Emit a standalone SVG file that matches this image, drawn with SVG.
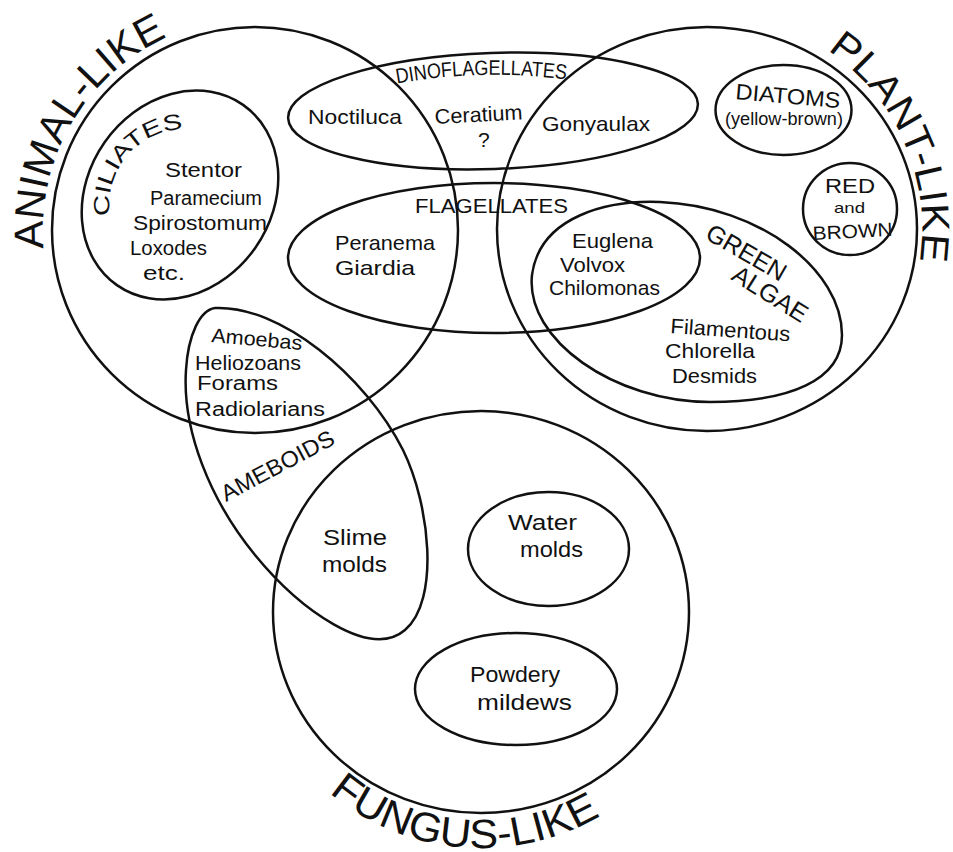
<svg xmlns="http://www.w3.org/2000/svg" width="953" height="852" viewBox="0 0 953 852">
<defs>
<style>
.s{fill:none;stroke:#111;stroke-width:2.5}
.t{font-family:"Liberation Sans",Arial,sans-serif;fill:#111;font-size:20px}
.b{font-family:"Liberation Sans",Arial,sans-serif;fill:#111;font-size:41px}
</style>
<path id="pAnimal" d="M 46.2 266.8 A 212 212 0 0 1 200.1 25.2"/>
<path id="pPlant" d="M 807.9 38.6 A 215 215 0 0 1 914.7 284.6"/>
<path id="pFungus" d="M 314.1 778.9 A 236 236 0 0 0 632.7 792.8"/>
<path id="pCiliates" d="M 111.6 223.7 A 76 76 0 0 1 191.6 129.3"/>
<path id="pDino" d="M 395 84 Q 480 68 570 80"/>
</defs>
<rect width="953" height="852" fill="#fff"/>
<g id="connectors"/>
<g id="animal-like">
<circle class="s" cx="255" cy="230" r="203"/>
<text class="b"><textPath href="#pAnimal" startOffset="18.5" textLength="261" lengthAdjust="spacingAndGlyphs">ANIMAL-LIKE</textPath></text>
</g>
<g id="plant-like">
<ellipse class="s" cx="707" cy="229" rx="210" ry="202"/>
<text class="b" style="font-size:39px"><textPath href="#pPlant" startOffset="22.5" textLength="243" lengthAdjust="spacingAndGlyphs">PLANT-LIKE</textPath></text>
</g>
<g id="fungus-like">
<ellipse class="s" cx="481" cy="612" rx="208" ry="201"/>
<text class="b"><textPath href="#pFungus" startOffset="20.6" textLength="290" lengthAdjust="spacingAndGlyphs">FUNGUS-LIKE</textPath></text>
</g>
<g id="dinoflagellates">
<ellipse class="s" cx="493" cy="111" rx="205" ry="58" transform="rotate(-2 493 111)"/>
<text class="t" style="font-size:21px"><textPath href="#pDino" startOffset="2" textLength="170" lengthAdjust="spacingAndGlyphs">DINOFLAGELLATES</textPath></text>
<text class="t" x="308" y="124" textLength="94" lengthAdjust="spacingAndGlyphs" style="font-size:21px">Noctiluca</text>
<text class="t" x="435" y="124" textLength="88" lengthAdjust="spacingAndGlyphs" style="font-size:21px" transform="rotate(-3 435 124)">Ceratium</text>
<text class="t" x="478" y="147" style="font-size:21px">?</text>
<text class="t" x="542" y="131" textLength="108" lengthAdjust="spacingAndGlyphs" style="font-size:21px">Gonyaulax</text>
</g>
<g id="flagellates">
<ellipse class="s" cx="494" cy="258" rx="206" ry="75"/>
<text class="t" x="415" y="213" textLength="153" lengthAdjust="spacingAndGlyphs" style="font-size:21px">FLAGELLATES</text>
<text class="t" x="335" y="250" textLength="100" lengthAdjust="spacingAndGlyphs" style="font-size:21px">Peranema</text>
<text class="t" x="335" y="275" textLength="80" lengthAdjust="spacingAndGlyphs" style="font-size:21px">Giardia</text>
<text class="t" x="572" y="248" textLength="81" lengthAdjust="spacingAndGlyphs" style="font-size:21px">Euglena</text>
<text class="t" x="560" y="272" textLength="65" lengthAdjust="spacingAndGlyphs" style="font-size:21px">Volvox</text>
<text class="t" x="549" y="295" textLength="111" lengthAdjust="spacingAndGlyphs" style="font-size:21px">Chilomonas</text>
</g>
<g id="green-algae">
<path class="s" d="M 532 275 C 540 215 610 200 660 202 C 760 206 842 270 842 335 C 842 380 790 402 710 402 C 615 402 525 340 532 275 Z"/>
<text class="t" x="704" y="238" textLength="88" lengthAdjust="spacingAndGlyphs" style="font-size:25px" transform="rotate(30 704 238)">GREEN</text>
<text class="t" x="730" y="279" textLength="84" lengthAdjust="spacingAndGlyphs" style="font-size:25px" transform="rotate(32 730 279)">ALGAE</text>
<text class="t" x="670" y="333" textLength="120" lengthAdjust="spacingAndGlyphs" style="font-size:21px" transform="rotate(4 670 333)">Filamentous</text>
<text class="t" x="665" y="358" textLength="90" lengthAdjust="spacingAndGlyphs" style="font-size:21px">Chlorella</text>
<text class="t" x="672" y="383" textLength="85" lengthAdjust="spacingAndGlyphs" style="font-size:21px">Desmids</text>
</g>
<g id="diatoms">
<ellipse class="s" cx="783.5" cy="110" rx="68" ry="45"/>
<text class="t" x="735" y="99" textLength="105" lengthAdjust="spacingAndGlyphs" style="font-size:22px" transform="rotate(5 735 99)">DIATOMS</text>
<text class="t" x="725" y="125" textLength="118" lengthAdjust="spacingAndGlyphs" style="font-size:18px">(yellow-brown)</text>
</g>
<g id="red-brown">
<ellipse class="s" cx="850" cy="209" rx="47" ry="46"/>
<text class="t" x="825" y="193" textLength="50" lengthAdjust="spacingAndGlyphs" style="font-size:20px">RED</text>
<text class="t" x="834" y="213" textLength="31" lengthAdjust="spacingAndGlyphs" style="font-size:15px">and</text>
<text class="t" x="813" y="240" textLength="80" lengthAdjust="spacingAndGlyphs" style="font-size:19px" transform="rotate(-3 813 240)">BROWN</text>
</g>
<g id="ciliates">
<ellipse class="s" cx="180" cy="195" rx="92" ry="110" transform="rotate(35 180 195)"/>
<text class="t" style="font-size:22px"><textPath href="#pCiliates" startOffset="8" textLength="128" lengthAdjust="spacingAndGlyphs">CILIATES</textPath></text>
<text class="t" x="165" y="177" textLength="77" lengthAdjust="spacingAndGlyphs">Stentor</text>
<text class="t" x="150" y="205" textLength="112" lengthAdjust="spacingAndGlyphs">Paramecium</text>
<text class="t" x="133" y="230" textLength="134" lengthAdjust="spacingAndGlyphs">Spirostomum</text>
<text class="t" x="130" y="255" textLength="77" lengthAdjust="spacingAndGlyphs">Loxodes</text>
<text class="t" x="143" y="280" textLength="42" lengthAdjust="spacingAndGlyphs">etc.</text>
</g>
<g id="ameboids">
<path class="s" d="M 215 308 C 280 305 365 375 403 450 C 430 505 440 600 405 630 C 370 660 300 610 255 555 C 210 500 182 430 186 370 C 188 335 200 310 215 308 Z"/>
<text class="t" x="226" y="502" textLength="125" lengthAdjust="spacingAndGlyphs" style="font-size:23px" transform="rotate(-28 226 502)">AMEBOIDS</text>
<text class="t" x="211" y="342" textLength="91" lengthAdjust="spacingAndGlyphs" transform="rotate(5 211 342)">Amoebas</text>
<text class="t" x="195" y="370" textLength="106" lengthAdjust="spacingAndGlyphs">Heliozoans</text>
<text class="t" x="197" y="390" textLength="81" lengthAdjust="spacingAndGlyphs">Forams</text>
<text class="t" x="195" y="416" textLength="130" lengthAdjust="spacingAndGlyphs">Radiolarians</text>
</g>
<g id="slime-molds">
<text class="t" x="323" y="545" textLength="64" lengthAdjust="spacingAndGlyphs" style="font-size:22px">Slime</text>
<text class="t" x="322" y="572" textLength="65" lengthAdjust="spacingAndGlyphs" style="font-size:22px">molds</text>
</g>
<g id="water-molds">
<ellipse class="s" cx="548.5" cy="549" rx="80.5" ry="57"/>
<text class="t" x="508" y="530" textLength="69" lengthAdjust="spacingAndGlyphs" style="font-size:22px">Water</text>
<text class="t" x="520" y="557" textLength="63" lengthAdjust="spacingAndGlyphs" style="font-size:22px">molds</text>
</g>
<g id="powdery-mildews">
<ellipse class="s" cx="516" cy="689" rx="101" ry="56"/>
<text class="t" x="470" y="682" textLength="90" lengthAdjust="spacingAndGlyphs" style="font-size:22px">Powdery</text>
<text class="t" x="477" y="710" textLength="95" lengthAdjust="spacingAndGlyphs" style="font-size:22px">mildews</text>
</g>
</svg>
